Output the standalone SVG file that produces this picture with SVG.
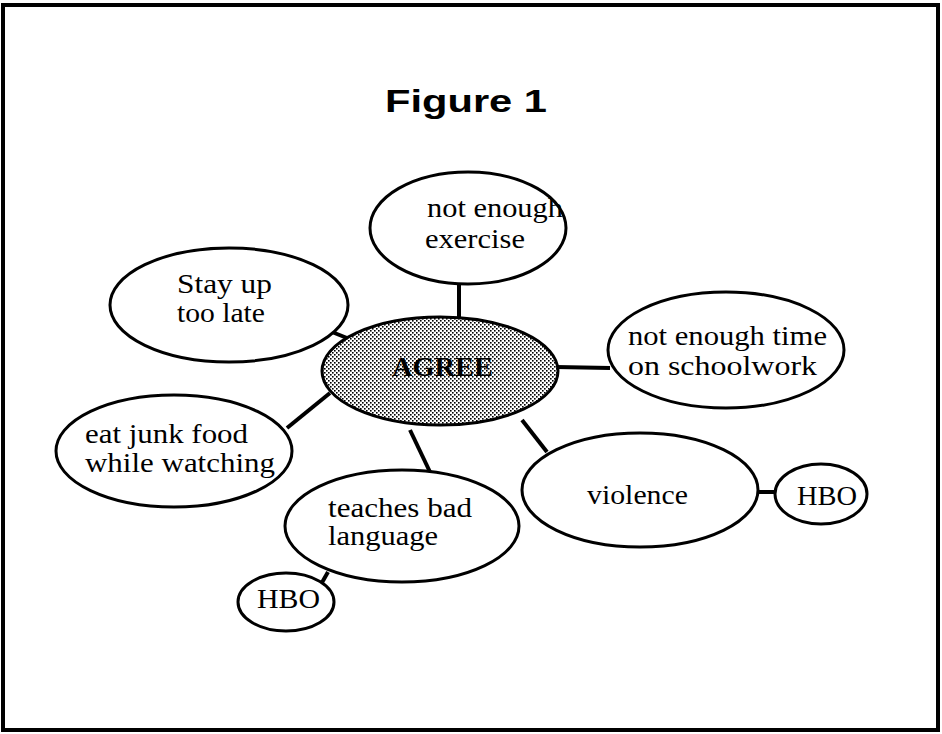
<svg xmlns="http://www.w3.org/2000/svg" width="942" height="734" viewBox="0 0 942 734">
<defs>
<pattern id="stipple" x="0" y="0" width="4" height="4" patternUnits="userSpaceOnUse">
<rect width="4" height="4" fill="#ffffff"/>
<rect x="0" y="0" width="1.6" height="1.6" fill="#000"/>
<rect x="2" y="2" width="1.6" height="1.6" fill="#000"/>
</pattern>
</defs>
<style>
.node{fill:#fff;stroke:#000;stroke-width:3}
.hub{fill:url(#stipple);stroke:#000;stroke-width:3}
.lbl{font-family:"Liberation Serif","Times New Roman",serif;font-size:28px;fill:#000}
.hublbl{font-family:"Liberation Serif","Times New Roman",serif;font-size:28px;font-weight:bold;fill:#000}
.conn line{stroke:#000;stroke-width:4;stroke-linecap:butt}
.title{font-family:"Liberation Sans",Arial,sans-serif;font-weight:bold;font-size:32px;fill:#000}
</style>
<rect x="3" y="5" width="935" height="725" fill="#fff" stroke="#000" stroke-width="4"/>
<text class="title" x="385" y="112" textLength="162" lengthAdjust="spacingAndGlyphs">Figure  1</text>
<g id="connectors" class="conn">
<line x1="459" y1="284" x2="459" y2="318"/>
<line x1="332" y1="332" x2="352" y2="340"/>
<line x1="556" y1="367" x2="610" y2="368"/>
<line x1="287" y1="428" x2="330" y2="393"/>
<line x1="410" y1="430" x2="430" y2="472"/>
<line x1="522" y1="420" x2="547" y2="452"/>
<line x1="757" y1="492" x2="776" y2="492"/>
<line x1="328" y1="572" x2="320" y2="586"/>
</g>
<g id="agree">
<ellipse class="hub" cx="440" cy="371" rx="118" ry="54"/>
<text class="hublbl" x="392" y="376" textLength="101" lengthAdjust="spacingAndGlyphs">AGREE</text>
</g>
<g id="exercise">
<ellipse class="node" cx="468" cy="228" rx="98" ry="56"/>
<text class="lbl" x="427" y="217" textLength="136" lengthAdjust="spacingAndGlyphs">not enough</text>
<text class="lbl" x="425" y="248" textLength="100" lengthAdjust="spacingAndGlyphs">exercise</text>
</g>
<g id="stayup">
<ellipse class="node" cx="229" cy="305" rx="119" ry="57"/>
<text class="lbl" x="177" y="293" textLength="95" lengthAdjust="spacingAndGlyphs">Stay up</text>
<text class="lbl" x="177" y="322" textLength="88" lengthAdjust="spacingAndGlyphs">too late</text>
</g>
<g id="schoolwork">
<ellipse class="node" cx="726" cy="350" rx="118" ry="58"/>
<text class="lbl" x="628" y="345" textLength="199" lengthAdjust="spacingAndGlyphs">not enough time</text>
<text class="lbl" x="628" y="375" textLength="189" lengthAdjust="spacingAndGlyphs">on schoolwork</text>
</g>
<g id="junkfood">
<ellipse class="node" cx="174" cy="451" rx="118" ry="56"/>
<text class="lbl" x="85" y="443" textLength="163" lengthAdjust="spacingAndGlyphs">eat junk food</text>
<text class="lbl" x="85" y="472" textLength="190" lengthAdjust="spacingAndGlyphs">while watching</text>
</g>
<g id="language">
<ellipse class="node" cx="402" cy="526" rx="117" ry="56"/>
<text class="lbl" x="328" y="517" textLength="144" lengthAdjust="spacingAndGlyphs">teaches bad</text>
<text class="lbl" x="328" y="545" textLength="110" lengthAdjust="spacingAndGlyphs">language</text>
</g>
<g id="violence">
<ellipse class="node" cx="640" cy="490" rx="118" ry="57"/>
<text class="lbl" x="587" y="504" textLength="101" lengthAdjust="spacingAndGlyphs">violence</text>
</g>
<g id="hbo-right">
<ellipse class="node" cx="821" cy="494" rx="46" ry="30"/>
<text class="lbl" x="797" y="505" textLength="60" lengthAdjust="spacingAndGlyphs">HBO</text>
</g>
<g id="hbo-bottom">
<ellipse class="node" cx="286" cy="602" rx="48" ry="29"/>
<text class="lbl" x="257" y="608" textLength="63" lengthAdjust="spacingAndGlyphs">HBO</text>
</g>
</svg>
